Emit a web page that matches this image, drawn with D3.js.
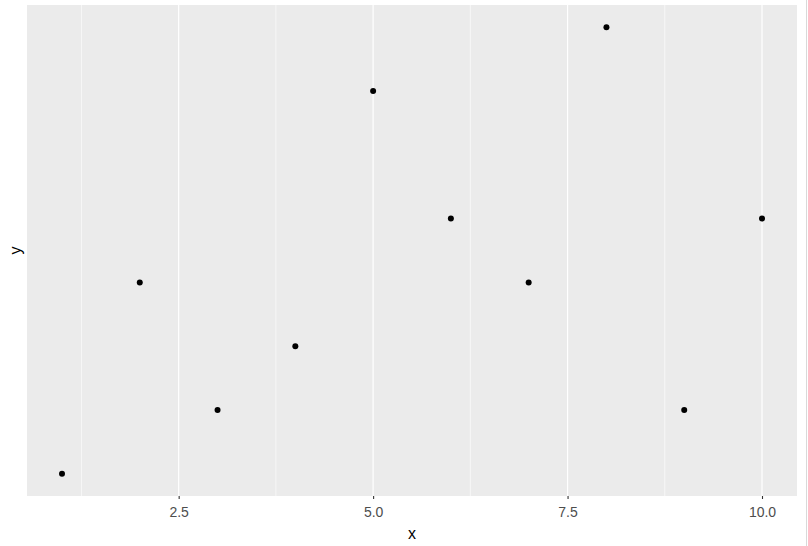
<!DOCTYPE html>
<html>
<head>
<meta charset="utf-8">
<script src="https://cdn.jsdelivr.net/npm/d3@7"></script>
<style>
  body { margin: 0; background: #fff; }
  text { font-family: "Liberation Sans", Arial, sans-serif; }
</style>
</head>
<body>
<div id="chart"></div>
<script>
// data
var xValues = [1, 2, 3, 4, 5, 6, 7, 8, 9, 10];
var yValues = [1, 4, 2, 3, 7, 5, 4, 8, 2, 5];
var xTicks = [2.5, 5.0, 7.5, 10.0];
var xMinor = [1.25, 3.75, 6.25, 8.75];

var width = 808, height = 546;
var panel = { left: 27, top: 5, right: 797, bottom: 496 };

var svg = d3.select("#chart").append("svg")
  .attr("width", width)
  .attr("height", height);

// ggplot-style 5% expansion
var xr = d3.extent(xValues), yr = d3.extent(yValues);
var xPad = (xr[1] - xr[0]) * 0.05, yPad = (yr[1] - yr[0]) * 0.05;

var x = d3.scaleLinear()
  .domain([xr[0] - xPad, xr[1] + xPad])
  .range([panel.left, panel.right]);
var y = d3.scaleLinear()
  .domain([yr[0] - yPad, yr[1] + yPad])
  .range([panel.bottom, panel.top]);

// panel background
svg.append("rect")
  .attr("x", panel.left)
  .attr("y", panel.top)
  .attr("width", panel.right - panel.left)
  .attr("height", panel.bottom - panel.top)
  .attr("fill", "#ebebeb");

// minor grid
svg.selectAll(".minor")
  .data(xMinor)
  .enter().append("line")
  .attr("x1", d => x(d)).attr("x2", d => x(d))
  .attr("y1", panel.top).attr("y2", panel.bottom)
  .attr("stroke", "#fff")
  .attr("stroke-width", 0.6);

// major grid
svg.selectAll(".major")
  .data(xTicks)
  .enter().append("line")
  .attr("x1", d => x(d)).attr("x2", d => x(d))
  .attr("y1", panel.top).attr("y2", panel.bottom)
  .attr("stroke", "#fff")
  .attr("stroke-width", 1.2);

// x axis
var xAxis = svg.append("g")
  .attr("transform", "translate(0," + panel.bottom + ")")
  .call(d3.axisBottom(x).tickValues(xTicks).tickFormat(d3.format(".1f")).tickSize(3).tickPadding(8));
xAxis.select(".domain").remove();
xAxis.selectAll(".tick line").attr("stroke", "#333").attr("stroke-width", 1.1);
xAxis.selectAll(".tick text").attr("fill", "#4d4d4d").style("font-size", "14px");

// axis titles
svg.append("text")
  .attr("x", (panel.left + panel.right) / 2)
  .attr("y", 539)
  .attr("text-anchor", "middle")
  .style("font-size", "16px")
  .attr("fill", "#000")
  .text("x");

svg.append("text")
  .attr("transform", "translate(21," + (panel.top + panel.bottom) / 2 + ") rotate(-90)")
  .attr("text-anchor", "middle")
  .style("font-size", "16px")
  .attr("fill", "#000")
  .text("y");

// points
svg.selectAll(".pt")
  .data(xValues)
  .enter().append("circle")
  .attr("cx", d => x(d))
  .attr("cy", (d, i) => y(yValues[i]))
  .attr("r", 3)
  .attr("fill", "#000");

// thin border at the right edge, as in the screenshot
svg.append("line")
  .attr("x1", 806.5).attr("x2", 806.5)
  .attr("y1", 0).attr("y2", height)
  .attr("stroke", "#d9d9d9");
</script>
</body>
</html>
